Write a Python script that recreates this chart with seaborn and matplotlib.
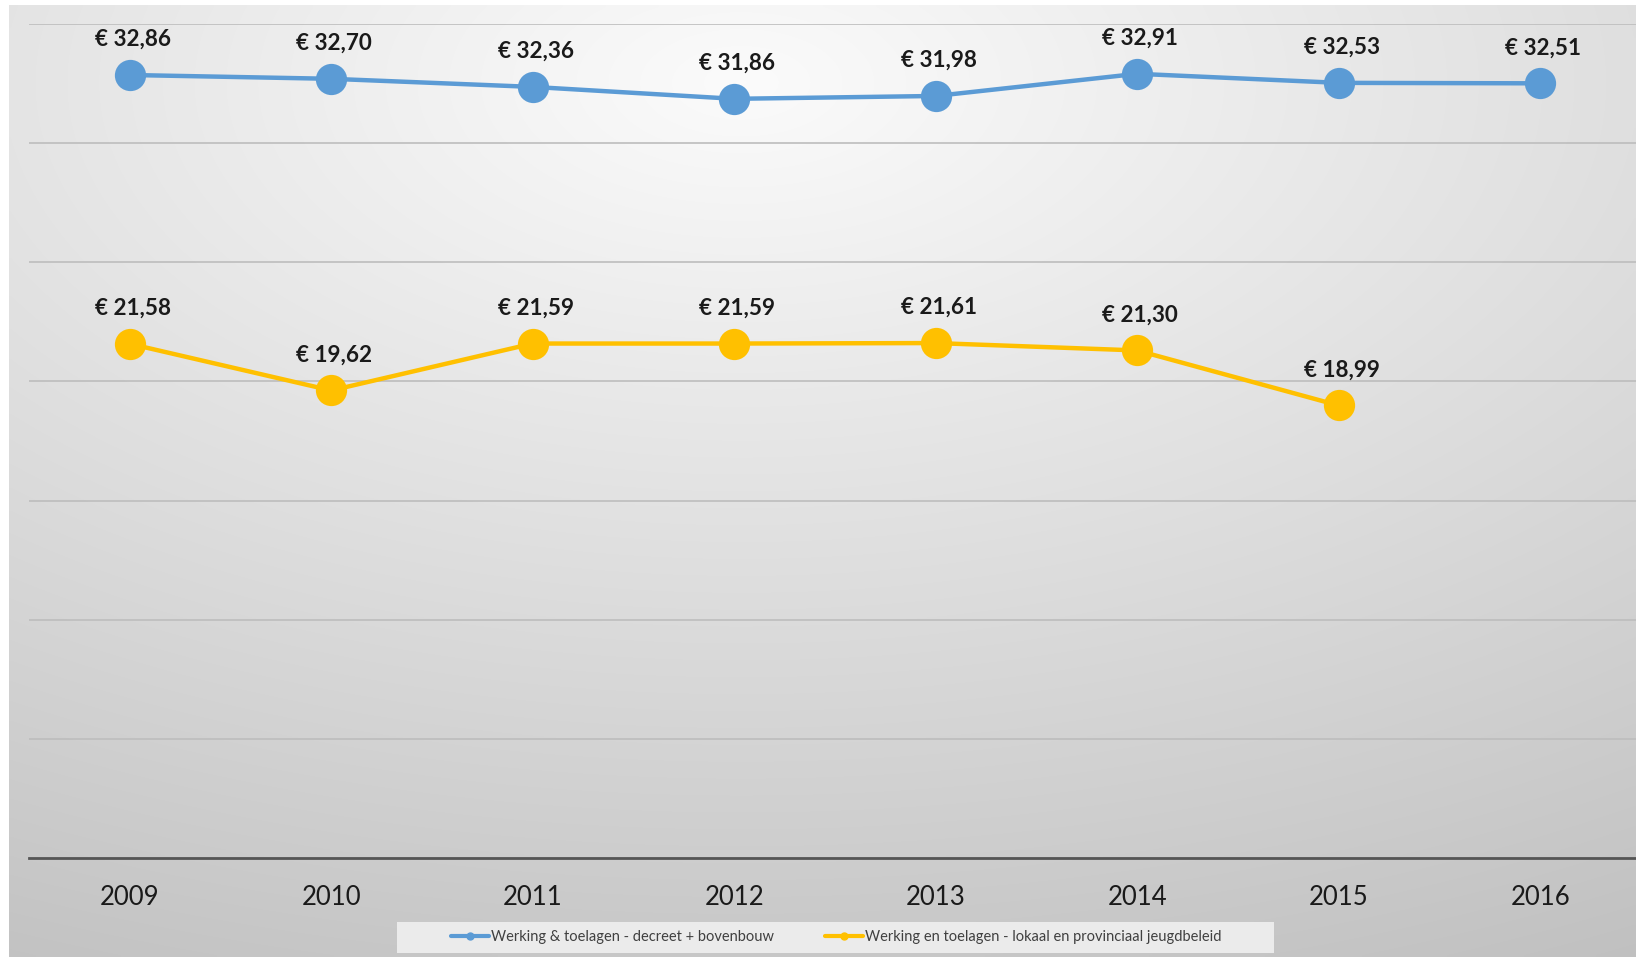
import numpy as np
import pandas as pd
import matplotlib
matplotlib.use("Agg")
import matplotlib.pyplot as plt
import seaborn as sns
from matplotlib.lines import Line2D
from matplotlib.patches import Rectangle

years = ["2009", "2010", "2011", "2012", "2013", "2014", "2015", "2016"]
decreet = [32.86, 32.70, 32.36, 31.86, 31.98, 32.91, 32.53, 32.51]
lokaal = [21.58, 19.62, 21.59, 21.59, 21.61, 21.30, 18.99, np.nan]
series_names = ["Werking & toelagen - decreet + bovenbouw",
                "Werking en toelagen - lokaal en provinciaal jeugdbeleid"]
colors = ["#5B9BD5", "#FFC000"]

sns.set_theme(style="white")
plt.rcParams['font.family'] = ['Lato', 'DejaVu Sans']

W, H = 1636, 957
fig = plt.figure(figsize=(W / 100, H / 100), dpi=100)
fig.patch.set_facecolor("white")

# background gradient
bg = fig.add_axes([0, 0, 1, 1], zorder=-5)
gx, gy = np.meshgrid(np.linspace(0, 1, 400), np.linspace(0, 1, 240))
d = np.sqrt(((gx - 0.45) * 1.0) ** 2 + ((gy - 0.08) * 1.1) ** 2)
val = 0.985 - 0.20 * np.clip(d / 1.0, 0, 1.2)
img = np.dstack([val, val, val])
bg.imshow(img, extent=[9 / W, 1, 0, 1 - 5 / H], origin="upper", aspect="auto", interpolation="bilinear")
bg.set_xlim(0, 1)
bg.set_ylim(0, 1)
bg.axis("off")

ax = fig.add_axes([29 / W, (H - 858) / H, (1641 - 29) / W, (858 - 24) / H])
ax.set_facecolor("none")

x = np.arange(len(years))
df = pd.DataFrame({"x": np.concatenate([x, x]),
                   "value": decreet + lokaal,
                   "series": [series_names[0]] * 8 + [series_names[1]] * 8})
for name, col in zip(series_names, colors):
    sub = df[df["series"] == name].dropna()
    sns.lineplot(data=sub, x="x", y="value", ax=ax, color=col, linewidth=3.2,
                 marker="o", markersize=22.5, markeredgewidth=0, legend=False, zorder=3)
    for xi, v in zip(sub["x"], sub["value"]):
        ax.annotate("€ " + f"{v:.2f}".replace(".", ","), (xi, v), xytext=(2, 25.5),
                    textcoords="offset points", ha="center", va="center",
                    fontsize=16.2, fontweight="bold", color="#1a1a1a")

ax.set_xlim(-0.5, 7.5)
ax.set_ylim(0, 35)
ax.set_yticks(np.arange(0, 36, 5))
ax.set_yticklabels([])
ax.grid(axis="y", color="#bdbdbd", linewidth=1.2)
ax.set_axisbelow(True)
ax.set_xticks(x)
ax.set_xticklabels(years, fontsize=18.5, color="#1a1a1a")
ax.tick_params(axis="x", length=0, pad=19.5)
ax.tick_params(axis="y", length=0)
ax.set_xlabel("")
ax.set_ylabel("")
for s in ["top", "right", "left"]:
    ax.spines[s].set_visible(False)
ax.spines["bottom"].set_color("#555555")
ax.spines["bottom"].set_linewidth(2)
ax.spines["bottom"].set_zorder(4)

# legend
fig.patches.append(Rectangle((397 / W, (H - 953) / H), (1274 - 397) / W, 31 / H,
                             transform=fig.transFigure, facecolor="#ebebeb",
                             edgecolor="none", zorder=1))
handles = [Line2D([0], [0], color=c, linewidth=3, marker="o", markersize=5) for c in colors]
leg = fig.legend(handles, series_names, loc="center", bbox_to_anchor=(836 / W, 1 - 937 / H),
                 ncol=2, frameon=False, fontsize=10.5, handlelength=2.6, handletextpad=0.15,
                 columnspacing=3.5, labelcolor="#404040")
leg.set_zorder(2)

fig.savefig("out.png", dpi=100)
